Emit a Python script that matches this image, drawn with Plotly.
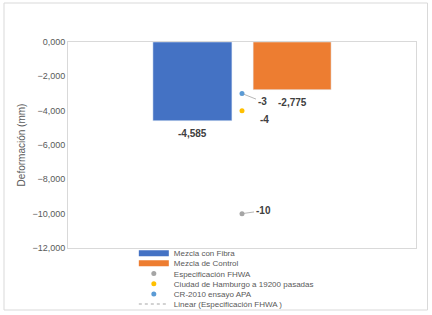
import plotly.graph_objects as go

# ---- data ----
bar_names = ["Mezcla con Fibra", "Mezcla de Control"]
bar_values = [-4.585, -2.775]
bar_colors = ["#4472C4", "#ED7D31"]

point_names = ["Especificación FHWA", "Ciudad de Hamburgo a 19200 pasadas", "CR-2010 ensayo APA"]
point_values = [-10, -4, -3]
point_colors = ["#A5A5A5", "#FFC000", "#5B9BD5"]

trend_name = "Linear (Especificación FHWA )"
category_x = 0

y_title = "Deformación (mm)"
y_ticks = [0, -2, -4, -6, -8, -10, -12]

# ---- layout helpers (positions only) ----
bar_offsets = [-0.256, 0.032]
bar_widths = [0.227, 0.224]
label_shift = {-10: (21, -3, True), -4: (22, 9, False), -3: (20, 8, True)}
label_font = dict(size=10, color="#404040", family="Liberation Sans", weight="bold")

fig = go.Figure()

for name, val, col, off, w in zip(bar_names, bar_values, bar_colors, bar_offsets, bar_widths):
    fig.add_trace(go.Bar(
        x=[category_x], y=[val], name=name, marker_color=col,
        offset=off, width=w, showlegend=False, hoverinfo="skip",
    ))
    fig.add_annotation(x=category_x + off + w / 2, y=val,
                       text=f"{val:.3f}".replace(".", ","), showarrow=False,
                       yanchor="top", yshift=-5, font=label_font)

for name, val, col in zip(point_names, point_values, point_colors):
    fig.add_trace(go.Scatter(
        x=[category_x], y=[val], name=name, mode="markers",
        marker=dict(color=col, size=5), showlegend=False, hoverinfo="skip",
    ))
    ax, ay, arrow = label_shift[val]
    if arrow:
        fig.add_annotation(x=category_x, y=val, text=f"{val:d}", showarrow=True,
                           arrowhead=0, arrowwidth=0.8, arrowcolor="#A5A5A5",
                           ax=ax, ay=ay, standoff=2, font=label_font)
    else:
        fig.add_annotation(x=category_x, y=val, text=f"{val:d}", showarrow=False,
                           xshift=ax, yshift=-ay, font=label_font)

# ---- legend proxies (one legend per row) ----
legend_rows = [
    (bar_names[0], dict(mode="lines", line=dict(color=bar_colors[0], width=6))),
    (bar_names[1], dict(mode="lines", line=dict(color=bar_colors[1], width=6))),
    (point_names[0], dict(mode="markers", marker=dict(color=point_colors[0], size=5))),
    (point_names[1], dict(mode="markers", marker=dict(color=point_colors[1], size=5))),
    (point_names[2], dict(mode="markers", marker=dict(color=point_colors[2], size=5))),
    (trend_name, dict(mode="lines", line=dict(color="#A5A5A5", width=1, dash="dot"))),
]
row_px = [253.3, 263.3, 273.5, 283.7, 294.0, 304.0]
plot_top, plot_bot, plot_left, plot_right = 42, 248, 68, 416
legends = {}
for i, ((name, style), py) in enumerate(zip(legend_rows, row_px)):
    key = "legend" if i == 0 else f"legend{i+1}"
    fig.add_trace(go.Scatter(x=[None], y=[None], name=name, showlegend=True,
                             legend=key, hoverinfo="skip", **style))
    legends[key] = dict(
        x=(138 - plot_left) / (plot_right - plot_left) - 0.012,
        xanchor="left",
        y=(plot_bot - py) / (plot_bot - plot_top),
        yanchor="middle",
        bgcolor="rgba(0,0,0,0)", borderwidth=0,
        font=dict(size=8, color="#595959", family="Liberation Sans"),
        itemwidth=30,
    )

# outer chart border
fig.add_shape(type="rect", xref="paper", yref="paper",
              x0=(4 - plot_left) / (plot_right - plot_left),
              x1=(427.5 - plot_left) / (plot_right - plot_left),
              y0=(plot_bot - 310) / (plot_bot - plot_top),
              y1=(plot_bot - 3) / (plot_bot - plot_top),
              line=dict(color="#D9D9D9", width=1), layer="below")

fig.update_layout(
    width=432, height=315,
    margin=dict(l=plot_left, r=432 - plot_right, t=plot_top, b=315 - plot_bot, autoexpand=False),
    paper_bgcolor="white", plot_bgcolor="white",
    separators=",.",
    font=dict(family="Liberation Sans", color="#595959"),
    xaxis=dict(range=[-0.5, 0.5], showticklabels=False, ticks="", showgrid=False,
               zeroline=False, showline=True, mirror=True, linecolor="#D9D9D9", linewidth=1),
    yaxis=dict(range=[-12, 0], tickvals=y_ticks, tickformat=".3f", showgrid=False,
               zeroline=False, showline=True, mirror=True, linecolor="#D9D9D9", linewidth=1,
               ticks="", tickfont=dict(size=9, color="#595959"),
               title=dict(text=y_title, font=dict(size=10, color="#595959"), standoff=4)),
    **legends,
)

fig.write_html("out.html", config={"displayModeBar": False},
               post_script="document.body.style.margin='0';document.body.style.overflow='hidden';")
